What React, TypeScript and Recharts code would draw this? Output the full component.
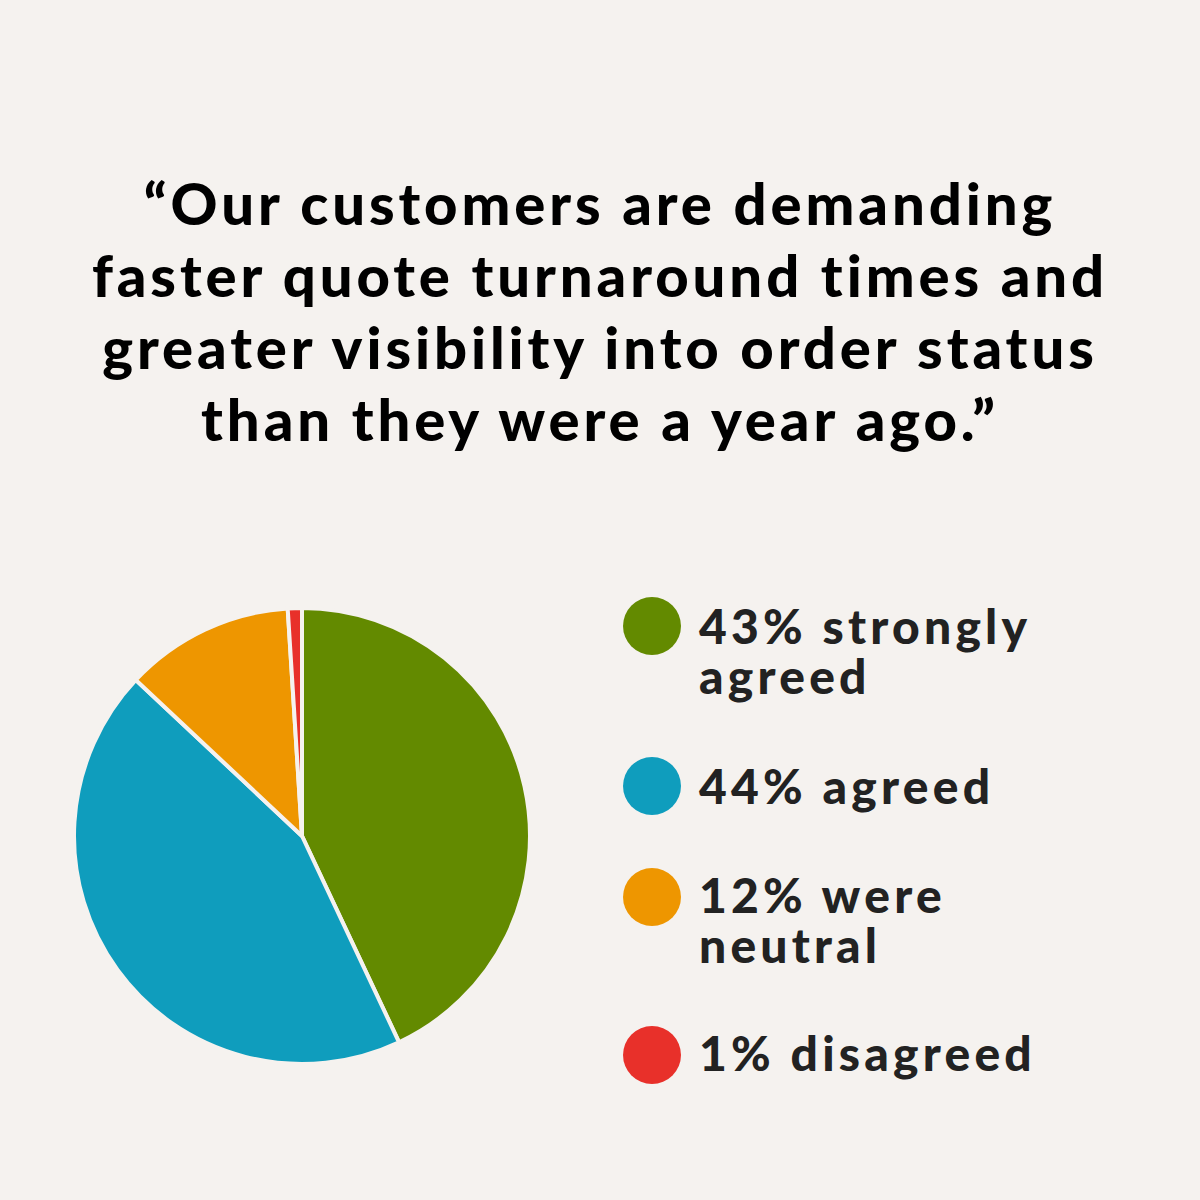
import { PieChart, Pie, Cell } from "recharts";

const labels = ["strongly agreed", "agreed", "were neutral", "disagreed"];
const values = [43, 44, 12, 1];
const colors = ["#638a00", "#0f9dbd", "#ee9600", "#e8302a"];
const legendLines = [
  ["43% strongly", "agreed"],
  ["44% agreed"],
  ["12% were", "neutral"],
  ["1% disagreed"],
];
const titleLines = [
  "\u201cOur customers are demanding",
  "faster quote turnaround times and",
  "greater visibility into order status",
  "than they were a year ago.\u201d",
];

const data = labels.map((label, i) => ({ label, value: values[i] }));

const legendTops = [601, 761, 870, 1028];
const dotCenters = [626, 786, 897, 1055];

const font = "Lato, 'Open Sans', sans-serif";

const App = () => {
  return (
    <div
      style={{
        position: "absolute",
        left: 0,
        top: 0,
        width: 1200,
        height: 1200,
        background: "#f5f2ef",
        fontFamily: font,
        overflow: "hidden",
      }}
    >
      <div
        style={{
          position: "absolute",
          top: 167,
          left: 0,
          width: 1200,
          textAlign: "center",
          fontSize: 58,
          lineHeight: "72px",
          fontWeight: 900,
          letterSpacing: 3.9,
          color: "#000",
        }}
      >
        {titleLines.map((t) => (
          <div key={t}>{t}</div>
        ))}
      </div>

      <div style={{ position: "absolute", left: 0, top: 0 }}>
        <PieChart width={1200} height={1200} margin={{ top: 0, right: 0, bottom: 0, left: 0 }}>
          <Pie
            data={data}
            dataKey="value"
            nameKey="label"
            cx={302}
            cy={836}
            outerRadius={228}
            startAngle={90}
            endAngle={-270}
            stroke="#f5f2ef"
            strokeWidth={4}
            isAnimationActive={false}
          >
            {data.map((d, i) => (
              <Cell key={d.label} fill={colors[i]} />
            ))}
          </Pie>
        </PieChart>
      </div>

      {legendLines.map((lines, i) => (
        <div key={i}>
          <div
            style={{
              position: "absolute",
              left: 623,
              top: dotCenters[i] - 29,
              width: 58,
              height: 58,
              borderRadius: "50%",
              background: colors[i],
            }}
          />
          <div
            style={{
              position: "absolute",
              left: 699,
              top: legendTops[i],
              fontSize: 48,
              lineHeight: "50px",
              fontWeight: 900,
              letterSpacing: 4.2,
              color: "#222",
              whiteSpace: "nowrap",
            }}
          >
            {lines.map((l) => (
              <div key={l}>{l}</div>
            ))}
          </div>
        </div>
      ))}
    </div>
  );
};

export default App;
